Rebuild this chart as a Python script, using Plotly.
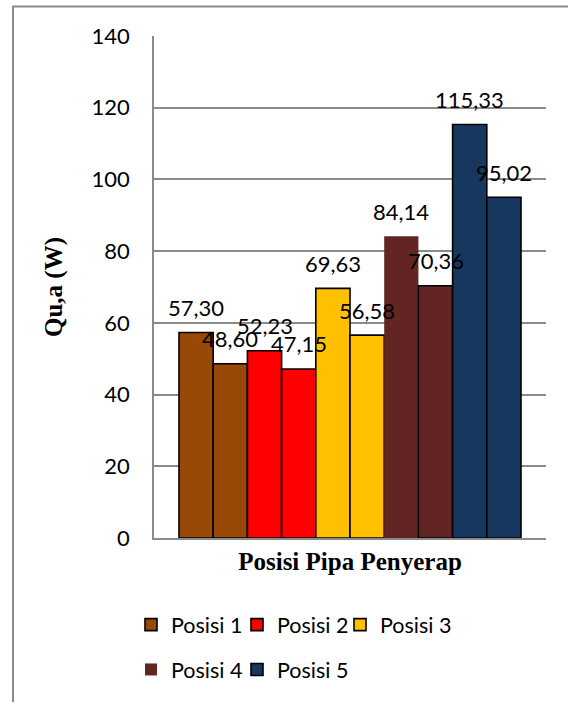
import plotly.graph_objects as go

# Heat gain Qu,a (W) for each absorber-pipe position, two measurements each
positions = ["Posisi 1", "Posisi 2", "Posisi 3", "Posisi 4", "Posisi 5"]
first_run = [57.30, 52.23, 69.63, 84.14, 115.33]
second_run = [48.60, 47.15, 56.58, 70.36, 95.02]
colors = ["#984807", "#FF0000", "#FFC000", "#632523", "#17375E"]
outline_widths = [[1.6, 1.6], [1.6, 1.6], [1.6, 1.6], [0, 1.6], [1.6, 1.6]]
y_ticks = [0, 20, 40, 60, 80, 100, 120, 140]

W, H = 568, 702
L, R, T, B = 154, 22, 36, 162
pw = W - L - R
ph = H - T - B

LABEL_FONT = dict(family="Lato", size=22, color="#000000")
LEGEND_FONT = dict(family="Lato", size=21.5, color="#000000")
TITLE_FONT = dict(family="Liberation Serif", size=25, color="#000000", weight="bold")

# legend entry anchors (pixel x of the swatch, pixel y of the row)
legend_slots = [(131, 627), (237, 627), (340, 627), (131, 672), (237, 672)]


def px_x(p):
    return (p - L) / pw


def px_y(p):
    return (H - B - p) / ph


fig = go.Figure()
annotations = []
legend_layouts = {}
for i, name in enumerate(positions):
    xs = [2 * i, 2 * i + 1]
    ys = [first_run[i], second_run[i]]
    legend_id = "legend" if i == 0 else f"legend{i + 1}"
    fig.add_trace(go.Bar(
        x=xs, y=ys, width=1, name=name,
        marker=dict(color=colors[i], line=dict(color="#000000", width=outline_widths[i])),
        legend=legend_id,
        hoverinfo="skip",
    ))
    lx, ly = legend_slots[i]
    legend_layouts[legend_id] = dict(
        orientation="h", xanchor="left", yanchor="middle",
        x=px_x(lx), y=px_y(ly),
        font=LEGEND_FONT, bgcolor="rgba(0,0,0,0)",
    )
    for x, v in zip(xs, ys):
        annotations.append(dict(
            x=x, y=v, xref="x", yref="y", text=f"{v:.2f}".replace(".", ","),
            showarrow=False, yanchor="middle", yshift=25, font=LABEL_FONT,
        ))

# outer chart border
shapes = [dict(
    type="rect", xref="paper", yref="paper",
    x0=px_x(13), x1=px_x(600), y0=px_y(6.5), y1=px_y(720),
    line=dict(color="#8a8a8a", width=2), fillcolor="rgba(0,0,0,0)", layer="below",
)]

fig.update_layout(
    width=W, height=H,
    margin=dict(l=L, r=R, t=T, b=B, pad=0),
    paper_bgcolor="white", plot_bgcolor="white",
    barmode="overlay",
    showlegend=True,
    annotations=annotations,
    shapes=shapes,
    xaxis=dict(
        range=[-1.231, 10.231], showticklabels=False, ticks="", showgrid=False,
        zeroline=False, showline=True, linecolor="#8a8a8a", linewidth=1.5,
        title=dict(text="Posisi Pipa Penyerap", font=TITLE_FONT, standoff=14),
    ),
    yaxis=dict(
        range=[0, 140], tickvals=y_ticks, ticktext=[str(t) for t in y_ticks],
        tickfont=LABEL_FONT, ticks="", ticklabelstandoff=18,
        showgrid=True, gridcolor="#8a8a8a", gridwidth=1.5,
        zeroline=False, showline=True, linecolor="#8a8a8a", linewidth=1.5,
        title=dict(text="Qu,a (W)", font=TITLE_FONT, standoff=22),
    ),
    **legend_layouts,
)

fig.write_html("out.html")
